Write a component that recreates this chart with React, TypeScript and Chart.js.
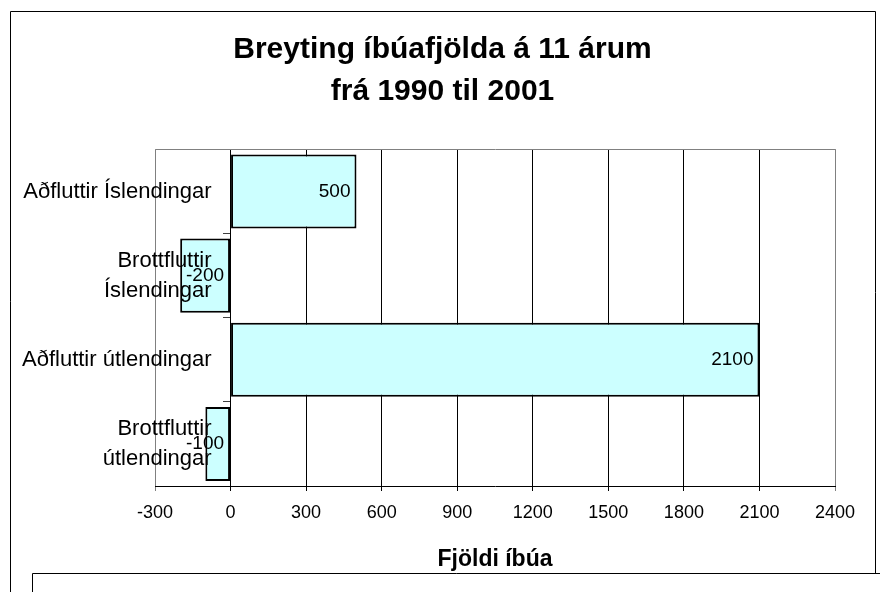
import React, { useEffect, useRef } from 'react';
import { Chart, registerables } from 'chart.js';

Chart.register(...registerables);

const titleLines = ['Breyting íbúafjölda á 11 árum', 'frá 1990 til 2001'];
const categories: string[][] = [
  ['Aðfluttir Íslendingar'],
  ['Brottfluttir', 'Íslendingar'],
  ['Aðfluttir útlendingar'],
  ['Brottfluttir', 'útlendingar'],
];
const values = [500, -200, 2100, -100];
const xTickValues = [-300, 0, 300, 600, 900, 1200, 1500, 1800, 2100, 2400];
const xAxisTitle = 'Fjöldi íbúa';

const FONT = '"Liberation Sans", Arial, sans-serif';

const framePlugin = {
  id: 'frame',
  afterDraw(chart: any) {
    const ctx = chart.ctx;
    ctx.save();
    ctx.strokeStyle = '#000';
    ctx.lineWidth = 1;
    ctx.beginPath();
    ctx.moveTo(10.5, 592);
    ctx.lineTo(10.5, 11.5);
    ctx.lineTo(875.5, 11.5);
    ctx.lineTo(875.5, 573.5);
    ctx.moveTo(880, 573.5);
    ctx.lineTo(32.5, 573.5);
    ctx.lineTo(32.5, 592);
    ctx.stroke();
    ctx.restore();
  },
};

const plotBorderPlugin = {
  id: 'plotBorder',
  beforeDatasetsDraw(chart: any) {
    const { ctx, chartArea } = chart;
    ctx.save();
    ctx.strokeStyle = '#808080';
    ctx.lineWidth = 1;
    ctx.beginPath();
    ctx.moveTo(Math.round(chartArea.left) + 0.5, Math.round(chartArea.bottom));
    ctx.lineTo(Math.round(chartArea.left) + 0.5, Math.round(chartArea.top) + 0.5);
    ctx.lineTo(Math.round(chartArea.right) + 0.5, Math.round(chartArea.top) + 0.5);
    ctx.lineTo(Math.round(chartArea.right) + 0.5, Math.round(chartArea.bottom));
    ctx.stroke();
    ctx.restore();
  },
};

const categoryLabelPlugin = {
  id: 'categoryLabels',
  afterDraw(chart: any) {
    const { ctx } = chart;
    const xs = chart.scales.x;
    const ys = chart.scales.y;
    const xRight = xs.getPixelForValue(0) - 19;
    const lh = 30;
    ctx.save();
    ctx.font = `22px ${FONT}`;
    ctx.fillStyle = '#000';
    ctx.textAlign = 'right';
    ctx.textBaseline = 'middle';
    categories.forEach((lines, i) => {
      const yc = ys.getPixelForValue(i);
      lines.forEach((line, j) => {
        ctx.fillText(line, xRight, yc + (j - (lines.length - 1) / 2) * lh);
      });
    });
    ctx.restore();
  },
};

const valueLabelPlugin = {
  id: 'valueLabels',
  afterDatasetsDraw(chart: any) {
    const { ctx } = chart;
    const meta = chart.getDatasetMeta(0);
    ctx.save();
    ctx.font = `19px ${FONT}`;
    ctx.fillStyle = '#000';
    ctx.textAlign = 'right';
    ctx.textBaseline = 'middle';
    meta.data.forEach((bar: any, i: number) => {
      const right = Math.max(bar.x, bar.base) - 6;
      ctx.fillText(String(values[i]), right, bar.y);
    });
    ctx.restore();
  },
};

export default function App() {
  const ref = useRef<HTMLCanvasElement | null>(null);

  useEffect(() => {
    document.body.style.margin = '0';
    const canvas = ref.current;
    if (!canvas) return;
    const chart = new Chart(canvas, {
      type: 'bar',
      data: {
        labels: categories,
        datasets: [
          {
            data: values,
            backgroundColor: '#CCFFFF',
            borderColor: '#000000',
            borderWidth: 2,
            borderSkipped: false,
            categoryPercentage: 1,
            barPercentage: 0.88,
          },
        ],
      },
      options: {
        indexAxis: 'y',
        responsive: false,
        animation: false,
        devicePixelRatio: 1,
        layout: { padding: { top: 11, left: 10, right: 5, bottom: 19 } },
        plugins: {
          legend: { display: false },
          tooltip: { enabled: false },
          title: {
            display: true,
            text: titleLines,
            color: '#000',
            font: { family: FONT, size: 30, weight: 'bold', lineHeight: 1.423 },
            padding: { top: 17, bottom: 36 },
          },
        },
        scales: {
          x: {
            type: 'linear',
            min: -300,
            max: 2400,
            afterBuildTicks: (scale: any) => {
              scale.ticks = xTickValues.map((v) => ({ value: v }));
            },
            afterFit: (s: any) => {
              s.height = 87;
            },
            ticks: {
              color: '#000',
              font: { family: FONT, size: 18 },
              padding: 11,
              callback: (v: any) => String(v),
              maxRotation: 0,
              autoSkip: false,
            },
            grid: {
              color: (c: any) =>
                c.tick && (c.tick.value === -300 || c.tick.value === 2400) ? '#808080' : '#000000',
              tickLength: 5,
              lineWidth: 1,
            },
            border: { color: '#000', width: 1 },
            title: {
              display: true,
              text: xAxisTitle,
              color: '#000',
              font: { family: FONT, size: 23, weight: 'bold' },
              padding: { top: 23, bottom: 0 },
            },
          },
          y: {
            type: 'category',
            position: { x: 0 } as any,
            ticks: { display: false },
            grid: { drawOnChartArea: false, drawTicks: true, tickLength: 7, color: '#404040' },
            border: { color: '#000', width: 1 },
          },
          padL: {
            type: 'category',
            position: 'left',
            ticks: { display: false },
            grid: { display: false },
            border: { display: false },
            afterFit: (s: any) => {
              s.width = 145;
            },
          },
          padR: {
            type: 'category',
            position: 'right',
            ticks: { display: false },
            grid: { display: false },
            border: { display: false },
            afterFit: (s: any) => {
              s.width = 40;
            },
          },
        } as any,
      },
      plugins: [plotBorderPlugin, valueLabelPlugin, categoryLabelPlugin, framePlugin],
    } as any);
    return () => chart.destroy();
  }, []);

  return (
    <div style={{ width: 880, height: 592 }}>
      <canvas ref={ref} width={880} height={592} style={{ display: 'block' }} />
    </div>
  );
}
